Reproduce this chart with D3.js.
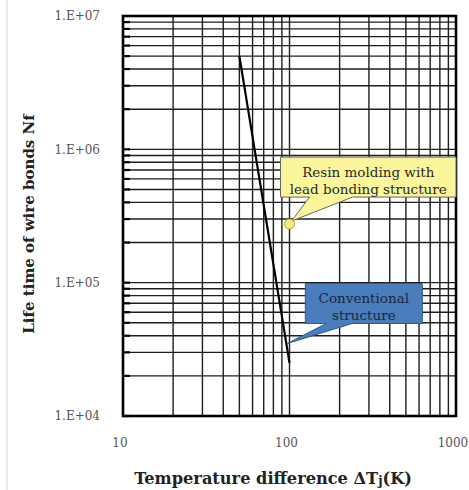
<!DOCTYPE html>
<html>
<head>
<meta charset="utf-8">
<script src="https://cdn.jsdelivr.net/npm/d3@7"></script>
<style>
  body { margin: 0; background: #fff; }
  svg { display: block; }
</style>
</head>
<body>
<div id="chart"></div>
<script>
// Chart data
const lineDeltaT = [50, 100];
const lineLife = [5.0e6, 2.5e4];
const resinDeltaT = [100];
const resinLife = [2.75e5];
const xTicks = [10, 100, 1000];
const xTickLabels = ["10", "100", "1000"];
const yTicks = [1e4, 1e5, 1e6, 1e7];
const yTickLabels = ["1.E+04", "1.E+05", "1.E+06", "1.E+07"];

const margin = {top: 16, right: 13, bottom: 74, left: 123},
    width = 469 - margin.left - margin.right,
    height = 490 - margin.top - margin.bottom;

const root = d3.select("#chart")
    .append("svg")
    .attr("width", 469)
    .attr("height", 490);

// faint frame line on the left
root.append("line")
    .attr("x1", 7).attr("x2", 7)
    .attr("y1", 0).attr("y2", 490)
    .attr("stroke", "#d8d8d8")
    .attr("stroke-width", 1);

const svg = root.append("g")
    .attr("transform", `translate(${margin.left},${margin.top})`);

const xScale = d3.scaleLog().domain([10, 1000]).range([0, width]);
const yScale = d3.scaleLog().domain([1e4, 1e7]).range([height, 0]);

// minor grid values (1..9 per decade)
const xGrid = [], yGrid = [];
for (let e = 1; e < 3; e++) for (let m = 1; m < 10; m++) xGrid.push(m * 10 ** e);
for (let e = 4; e < 7; e++) for (let m = 1; m < 10; m++) yGrid.push(m * 10 ** e);

svg.append("g")
    .selectAll("line")
    .data(xGrid)
    .join("line")
    .attr("x1", d => xScale(d)).attr("x2", d => xScale(d))
    .attr("y1", 0).attr("y2", height)
    .attr("stroke", "#1e1e1e")
    .attr("stroke-width", 1.4);

svg.append("g")
    .selectAll("line")
    .data(yGrid)
    .join("line")
    .attr("x1", 0).attr("x2", width)
    .attr("y1", d => yScale(d)).attr("y2", d => yScale(d))
    .attr("stroke", "#1e1e1e")
    .attr("stroke-width", 1.4);

// small inner ticks on the left axis
svg.append("g")
    .selectAll("line")
    .data(yGrid)
    .join("line")
    .attr("x1", 0).attr("x2", 7)
    .attr("y1", d => yScale(d)).attr("y2", d => yScale(d))
    .attr("stroke", "#000")
    .attr("stroke-width", 2.2);

// plot frame
svg.append("rect")
    .attr("width", width)
    .attr("height", height)
    .attr("fill", "none")
    .attr("stroke", "#000")
    .attr("stroke-width", 2.6);

// tick labels
svg.append("g")
    .selectAll("text")
    .data(yTicks)
    .join("text")
    .attr("x", -23)
    .attr("y", d => yScale(d))
    .attr("dy", "0.35em")
    .attr("text-anchor", "end")
    .attr("font-family", "DejaVu Serif")
    .attr("font-size", 12)
    .attr("fill", "#555")
    .text((d, i) => yTickLabels[i]);

svg.append("g")
    .selectAll("text")
    .data(xTicks)
    .join("text")
    .attr("x", d => xScale(d) - 3)
    .attr("y", height + 31)
    .attr("text-anchor", "middle")
    .attr("font-family", "DejaVu Serif")
    .attr("font-size", 12)
    .attr("fill", "#555")
    .text((d, i) => xTickLabels[i]);

// life line
const line = d3.line()
    .x(d => xScale(d[0]))
    .y(d => yScale(d[1]));

svg.append("path")
    .datum(lineDeltaT.map((d, i) => [d, lineLife[i]]))
    .attr("d", line)
    .attr("fill", "none")
    .attr("stroke", "#000")
    .attr("stroke-width", 2.2);

// callouts
function callout(box, base, tip, fill, stroke) {
    const p = d3.path();
    p.moveTo(box.x, box.y);
    p.lineTo(box.x + box.w, box.y);
    p.lineTo(box.x + box.w, box.y + box.h);
    p.lineTo(base[1], box.y + box.h);
    p.lineTo(tip[0], tip[1]);
    p.lineTo(base[0], box.y + box.h);
    p.lineTo(box.x, box.y + box.h);
    p.closePath();
    svg.append("path")
        .attr("d", p.toString())
        .attr("fill", fill)
        .attr("stroke", stroke)
        .attr("stroke-width", 1);
}

function calloutText(lines, cx, y0, color) {
    svg.append("g")
        .selectAll("text")
        .data(lines)
        .join("text")
        .attr("x", cx)
        .attr("y", (d, i) => y0 + i * 17)
        .attr("text-anchor", "middle")
        .attr("font-family", "DejaVu Serif")
        .attr("font-size", 13.5)
        .attr("fill", color)
        .text(d => d);
}

// yellow: resin molding point
const rx = xScale(resinDeltaT[0]), ry = yScale(resinLife[0]);
const yBox = {x: rx - 9, y: ry - 67, w: width - (rx - 9), h: 40};
callout(yBox, [rx + 20, rx + 63], [rx + 2, ry - 3], "#fbf59c", "#666");
calloutText(["Resin molding with", "lead bonding structure"], yBox.x + yBox.w / 2, yBox.y + 20, "#2a2a2a");

svg.append("circle")
    .attr("cx", rx)
    .attr("cy", ry)
    .attr("r", 5)
    .attr("fill", "#f4ec7a")
    .attr("stroke", "#b8a830")
    .attr("stroke-width", 1);

// blue: conventional structure, pointing at the line
const tipLife = 3.5e4;
const tipT = Math.exp(d3.scaleLog().domain(lineLife).range(lineDeltaT.map(Math.log))(tipLife));
const bx = xScale(tipT), by = yScale(tipLife);
const bBox = {x: bx + 19, y: by - 60, w: 117, h: 40};
callout(bBox, [bx + 40, bx + 66], [bx + 1, by], "#4a7dbb", "#2f5a8c");
calloutText(["Conventional", "structure"], bBox.x + bBox.w / 2, bBox.y + 20, "#1a2440");

// axis titles
root.append("text")
    .attr("x", 273)
    .attr("y", 484)
    .attr("text-anchor", "middle")
    .attr("font-family", "DejaVu Serif")
    .attr("font-weight", "bold")
    .attr("font-size", 16.2)
    .attr("fill", "#222")
    .text("Temperature difference ΔT")
    .append("tspan")
    .attr("font-size", 12)
    .attr("dy", 1)
    .text("j")
    .append("tspan")
    .attr("font-size", 16.2)
    .attr("dy", -1)
    .text("(K)");

root.append("text")
    .attr("transform", "translate(34,224) rotate(-90)")
    .attr("text-anchor", "middle")
    .attr("font-family", "DejaVu Serif")
    .attr("font-weight", "bold")
    .attr("font-size", 15)
    .attr("fill", "#222")
    .text("Life time of wire bonds Nf");
</script>
</body>
</html>
